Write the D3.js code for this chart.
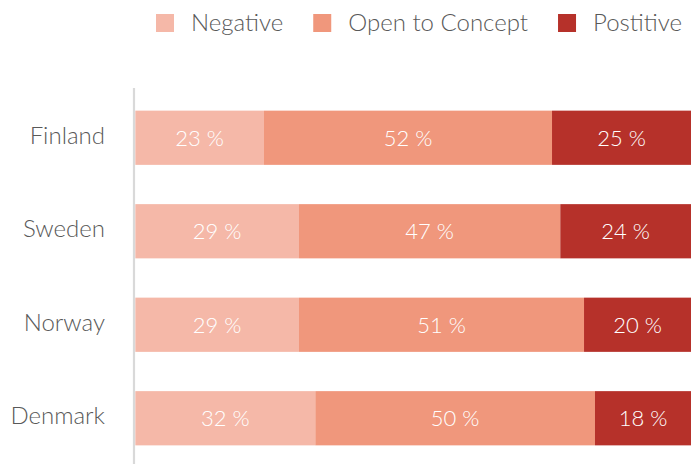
<!DOCTYPE html>
<html><head><meta charset="utf-8">
<script src="https://cdn.jsdelivr.net/npm/d3@7/dist/d3.min.js"></script>
<style>body{margin:0;background:#fff;}svg{display:block;font-family:Lato,"Open Sans",sans-serif;}</style>
</head><body><svg id="c" width="691" height="464"></svg>
<script>
const categories = ["Finland","Sweden","Norway","Denmark"];
const seriesNames = ["Negative","Open to Concept","Postitive"];
const negative = [23.16,29.46,29.46,32.39];
const openToConcept = [51.83,47.02,51.29,50.33];
const positive = [25.01,23.52,19.6,17.6];
const colors = ["#f5b8a8","#f0977c","#b6312a"];

const svg = d3.select("#c");
const W=691,H=464;
const m={left:135.3,right:0,top:88,bottom:0};
const rows = categories.map((c,i)=>({cat:c,"Negative":negative[i],"Open to Concept":openToConcept[i],"Postitive":positive[i]}));
const stack = d3.stack().keys(seriesNames)(rows);
const x = d3.scaleLinear().domain([0,100]).range([m.left,W]);
const y = d3.scaleBand().domain(categories).range([m.top+3,H+1]).paddingInner(0.42).paddingOuter(0.21);

stack.forEach((s,si)=>{
  const g=svg.append("g");
  g.selectAll("rect").data(s).join("rect")
    .attr("x",d=>x(d[0])).attr("width",d=>x(d[1])-x(d[0]))
    .attr("y",d=>y(d.data.cat)).attr("height",y.bandwidth())
    .attr("fill",colors[si]);
  g.selectAll("text").data(s).join("text")
    .attr("x",d=>(x(d[0])+Math.min(W,x(d[1])))/2).attr("y",d=>y(d.data.cat)+y.bandwidth()/2)
    .attr("text-anchor","middle").attr("dy","0.36em")
    .attr("fill","#fff").attr("font-size",22).attr("font-weight",300)
    .text(d=>Math.round(d[1]-d[0])+" %");
});

const ax = svg.append("g").attr("transform",`translate(${m.left-1.3},0)`)
  .call(d3.axisLeft(y).tickSize(0).tickPadding(29));
ax.select(".domain").attr("stroke","#d9d9d9").attr("stroke-width",2.2).attr("d",`M0,${m.top}V${H}`);
ax.selectAll("text").attr("font-size",24).attr("font-weight",300).attr("fill","#595959").attr("font-family","Lato,sans-serif").attr("dy","0.25em");

// legend
const leg = svg.append("g");
let items = seriesNames.map((n,i)=>{
  const gi=leg.append("g");
  gi.append("rect").attr("width",18).attr("height",18).attr("y",14).attr("fill",colors[i]);
  const t=gi.append("text").attr("x",35).attr("y",23).attr("dy","0.35em").attr("font-size",24).attr("font-weight",300).attr("fill","#595959").text(n);
  return {g:gi,w:35+t.node().getComputedTextLength()};
});
let xr=682;
for(let i=items.length-1;i>=0;i--){
  xr-=items[i].w;
  items[i].g.attr("transform",`translate(${xr},0)`);
  xr-=30;
}
</script></body></html>
